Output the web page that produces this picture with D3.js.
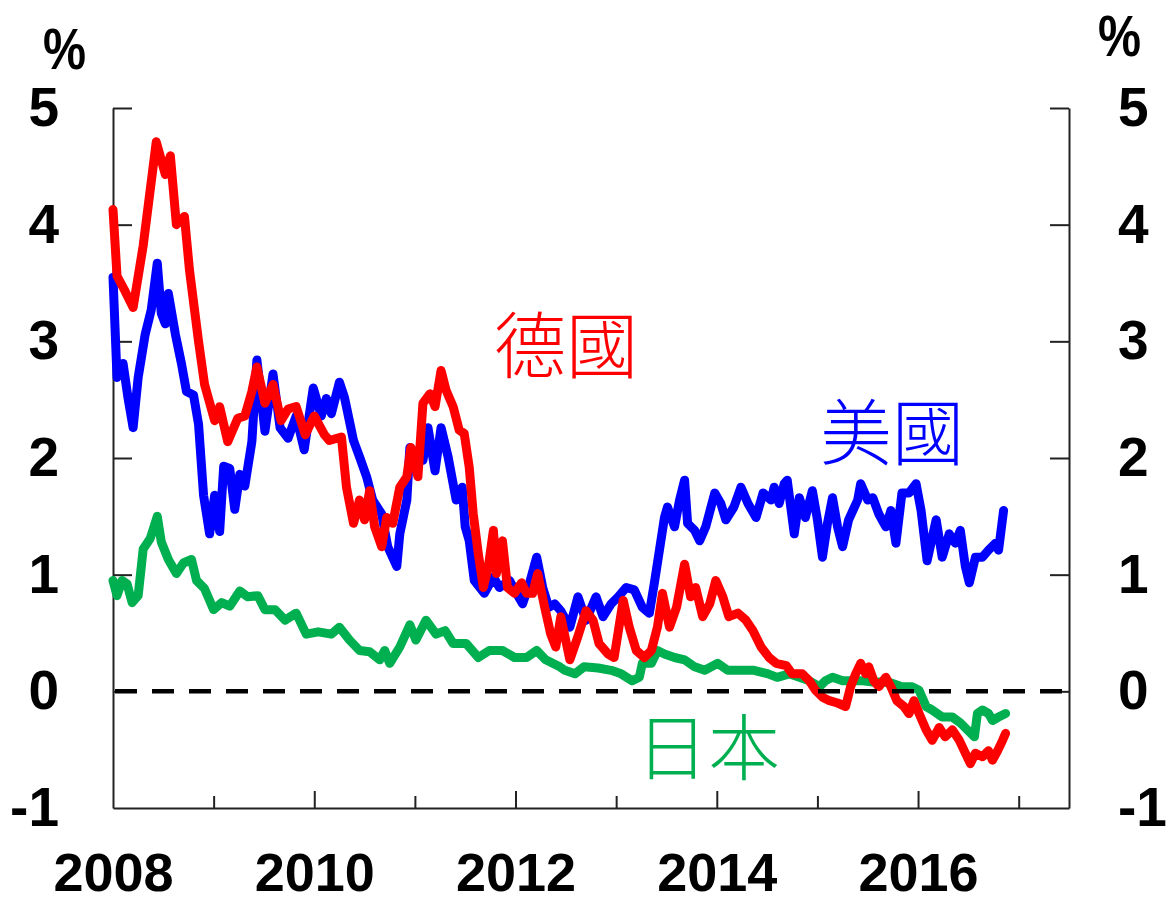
<!DOCTYPE html>
<html>
<head>
<meta charset="utf-8">
<script src="https://cdnjs.cloudflare.com/ajax/libs/d3/7.8.5/d3.min.js"></script>
<style>
  body { margin: 0; background: #fff; }
  svg { display: block; }
</style>
</head>
<body>
<script>
// 10年期公債殖利率 (%), date as decimal year

var usYield = [
  [2008.00,3.55],[2008.04,2.69],[2008.10,2.81],[2008.15,2.51],[2008.20,2.26],[2008.25,2.69],[2008.32,3.06],
  [2008.38,3.27],[2008.44,3.67],[2008.48,3.24],[2008.52,3.15],[2008.55,3.41],[2008.62,3.06],[2008.68,2.81],
  [2008.73,2.57],[2008.80,2.54],[2008.85,2.29],[2008.90,1.68],[2008.96,1.35],[2009.01,1.68],[2009.06,1.37],
  [2009.10,1.93],[2009.16,1.91],[2009.21,1.56],[2009.26,1.86],[2009.31,1.76],[2009.38,2.14],[2009.43,2.84],
  [2009.51,2.23],[2009.59,2.72],[2009.66,2.26],[2009.74,2.17],[2009.82,2.36],[2009.90,2.07],[2009.99,2.60],
  [2010.07,2.36],[2010.12,2.51],[2010.17,2.38],[2010.25,2.65],[2010.30,2.52],[2010.39,2.15],[2010.45,2.01],
  [2010.52,1.84],[2010.58,1.64],[2010.67,1.52],[2010.73,1.24],[2010.82,1.07],[2010.85,1.35],[2010.92,1.64],
  [2010.95,2.09],[2011.01,2.04],[2011.08,1.98],[2011.13,2.26],[2011.20,1.89],[2011.26,2.26],[2011.33,2.01],
  [2011.41,1.64],[2011.47,1.75],[2011.50,1.41],[2011.54,1.29],[2011.59,0.95],[2011.69,0.84],[2011.78,0.98],
  [2011.84,0.89],[2011.94,0.95],[2012.01,0.84],[2012.07,0.75],[2012.14,0.93],[2012.21,1.15],[2012.27,0.89],
  [2012.33,0.72],[2012.39,0.75],[2012.45,0.69],[2012.54,0.55],[2012.62,0.81],[2012.70,0.61],[2012.80,0.81],
  [2012.87,0.64],[2012.95,0.75],[2013.02,0.81],[2013.10,0.89],[2013.18,0.87],[2013.26,0.72],[2013.33,0.67],
  [2013.38,0.93],[2013.43,1.21],[2013.48,1.49],[2013.51,1.58],[2013.58,1.41],[2013.63,1.64],[2013.68,1.81],
  [2013.71,1.44],[2013.78,1.38],[2013.83,1.29],[2013.89,1.41],[2013.98,1.70],[2014.04,1.61],[2014.09,1.47],
  [2014.17,1.58],[2014.24,1.75],[2014.31,1.61],[2014.39,1.49],[2014.46,1.70],[2014.54,1.64],[2014.57,1.75],
  [2014.62,1.61],[2014.67,1.78],[2014.70,1.81],[2014.77,1.35],[2014.82,1.66],[2014.88,1.49],[2014.95,1.72],
  [2015.00,1.47],[2015.05,1.15],[2015.10,1.44],[2015.15,1.66],[2015.20,1.41],[2015.25,1.24],[2015.31,1.47],
  [2015.40,1.64],[2015.43,1.78],[2015.50,1.64],[2015.55,1.66],[2015.61,1.52],[2015.68,1.41],[2015.73,1.55],
  [2015.78,1.27],[2015.84,1.70],[2015.91,1.70],[2015.98,1.78],[2016.03,1.55],[2016.09,1.12],[2016.18,1.47],
  [2016.24,1.15],[2016.31,1.35],[2016.37,1.27],[2016.42,1.38],[2016.47,1.07],[2016.51,0.93],[2016.57,1.15],
  [2016.64,1.15],[2016.70,1.21],[2016.77,1.27],[2016.80,1.21],[2016.85,1.55]
];

var deYield = [
  [2008.00,4.13],[2008.04,3.56],[2008.12,3.43],[2008.20,3.29],[2008.30,3.82],[2008.43,4.71],[2008.52,4.43],
  [2008.57,4.59],[2008.63,4.00],[2008.71,4.07],[2008.76,3.61],[2008.85,3.00],[2008.91,2.63],[2009.01,2.32],
  [2009.06,2.44],[2009.14,2.14],[2009.24,2.34],[2009.31,2.36],[2009.38,2.57],[2009.43,2.78],[2009.51,2.47],
  [2009.59,2.63],[2009.67,2.32],[2009.74,2.42],[2009.82,2.44],[2009.91,2.20],[2010.00,2.36],[2010.10,2.20],
  [2010.15,2.15],[2010.27,2.18],[2010.32,1.75],[2010.39,1.44],[2010.45,1.64],[2010.50,1.47],[2010.55,1.72],
  [2010.60,1.41],[2010.67,1.24],[2010.72,1.49],[2010.78,1.44],[2010.85,1.75],[2010.92,1.84],[2010.96,2.09],
  [2011.03,1.84],[2011.08,2.47],[2011.15,2.55],[2011.20,2.44],[2011.26,2.75],[2011.31,2.58],[2011.38,2.44],
  [2011.44,2.24],[2011.49,2.21],[2011.54,1.92],[2011.58,1.52],[2011.63,1.18],[2011.68,0.89],[2011.73,1.07],
  [2011.78,1.38],[2011.81,1.01],[2011.87,1.29],[2011.92,0.89],[2011.99,0.84],[2012.06,0.93],[2012.11,0.84],
  [2012.17,0.84],[2012.22,1.01],[2012.29,0.72],[2012.35,0.49],[2012.40,0.38],[2012.45,0.64],[2012.54,0.27],
  [2012.62,0.47],[2012.70,0.69],[2012.77,0.61],[2012.83,0.41],[2012.92,0.32],[2012.98,0.29],[2013.07,0.78],
  [2013.13,0.55],[2013.20,0.35],[2013.28,0.29],[2013.35,0.35],[2013.41,0.55],[2013.46,0.84],[2013.53,0.55],
  [2013.60,0.72],[2013.68,1.09],[2013.74,0.81],[2013.79,0.89],[2013.86,0.64],[2013.93,0.75],[2013.99,0.95],
  [2014.06,0.81],[2014.12,0.64],[2014.21,0.67],[2014.29,0.61],[2014.36,0.52],[2014.44,0.38],[2014.52,0.29],
  [2014.59,0.24],[2014.69,0.22],[2014.75,0.15],[2014.85,0.15],[2014.92,0.09],[2014.98,0.01],[2015.05,-0.05],
  [2015.12,-0.08],[2015.20,-0.10],[2015.28,-0.13],[2015.33,0.04],[2015.38,0.15],[2015.43,0.24],[2015.48,0.15],
  [2015.51,0.21],[2015.56,0.09],[2015.61,0.04],[2015.68,0.12],[2015.73,0.04],[2015.79,-0.08],[2015.86,-0.13],
  [2015.91,-0.19],[2015.96,-0.08],[2016.01,-0.19],[2016.08,-0.33],[2016.14,-0.42],[2016.21,-0.31],[2016.27,-0.39],
  [2016.34,-0.33],[2016.41,-0.42],[2016.47,-0.53],[2016.52,-0.62],[2016.57,-0.53],[2016.64,-0.56],[2016.70,-0.51],
  [2016.74,-0.59],[2016.79,-0.51],[2016.84,-0.42],[2016.87,-0.36]
];

var jpYield = [
  [2008.00,0.95],[2008.04,0.82],[2008.09,0.95],[2008.14,0.92],[2008.19,0.76],[2008.25,0.82],[2008.30,1.22],
  [2008.37,1.31],[2008.44,1.50],[2008.48,1.28],[2008.55,1.13],[2008.63,1.01],[2008.70,1.10],[2008.78,1.13],
  [2008.83,0.95],[2008.91,0.88],[2009.00,0.70],[2009.08,0.76],[2009.16,0.73],[2009.26,0.86],[2009.34,0.81],
  [2009.44,0.82],[2009.51,0.70],[2009.61,0.70],[2009.71,0.61],[2009.82,0.67],[2009.92,0.49],[2010.04,0.51],
  [2010.17,0.49],[2010.25,0.55],[2010.35,0.44],[2010.45,0.35],[2010.55,0.34],[2010.65,0.27],[2010.70,0.35],
  [2010.75,0.24],[2010.85,0.38],[2010.95,0.57],[2011.01,0.44],[2011.11,0.61],[2011.21,0.49],[2011.30,0.52],
  [2011.38,0.41],[2011.51,0.41],[2011.63,0.29],[2011.74,0.35],[2011.87,0.35],[2011.99,0.29],[2012.11,0.29],
  [2012.21,0.35],[2012.30,0.27],[2012.44,0.21],[2012.49,0.18],[2012.59,0.15],[2012.68,0.21],[2012.82,0.20],
  [2012.95,0.18],[2013.05,0.15],[2013.16,0.09],[2013.23,0.12],[2013.26,0.24],[2013.35,0.24],[2013.41,0.35],
  [2013.48,0.32],[2013.58,0.29],[2013.68,0.27],[2013.78,0.21],[2013.88,0.18],[2014.01,0.24],[2014.11,0.18],
  [2014.24,0.18],[2014.37,0.18],[2014.51,0.15],[2014.60,0.12],[2014.72,0.15],[2014.82,0.12],[2014.92,0.09],
  [2015.02,0.04],[2015.08,0.09],[2015.15,0.12],[2015.25,0.09],[2015.35,0.09],[2015.45,0.09],[2015.55,0.08],
  [2015.65,0.08],[2015.74,0.07],[2015.84,0.04],[2015.94,0.04],[2016.01,0.01],[2016.08,-0.13],[2016.14,-0.16],
  [2016.24,-0.22],[2016.34,-0.22],[2016.42,-0.27],[2016.49,-0.33],[2016.56,-0.39],[2016.59,-0.19],[2016.64,-0.16],
  [2016.70,-0.19],[2016.74,-0.25],[2016.80,-0.22],[2016.87,-0.19]
];

var yTicks = [-1, 0, 1, 2, 3, 4, 5];
var xTicks = [2008, 2009, 2010, 2011, 2012, 2013, 2014, 2015, 2016, 2017];

var width = 1169,
    height = 902;

var numFont = "'Liberation Sans', Arial, sans-serif";
var cjkFont = "'Noto Sans CJK TC', 'Noto Sans CJK SC', sans-serif";

var svg = d3.select("body").append("svg")
    .attr("width", width)
    .attr("height", height);

var x = d3.scaleLinear()
    .domain([2008, 2017.5])
    .range([113, 1069]);

var y = d3.scaleLinear()
    .domain([-1, 5])
    .range([808, 108]);

// plain "-1", not the unicode minus d3 puts in
var plain = function(d) { return String(d); };

// axes, ticks point inward
var yLeft = svg.append("g")
    .attr("transform", "translate(" + x(2008) + ",0)")
    .call(d3.axisLeft(y).tickValues(yTicks).tickFormat(plain)
        .tickSizeInner(-19).tickSizeOuter(0).tickPadding(54));

var yRight = svg.append("g")
    .attr("transform", "translate(" + x(2017.5) + ",0)")
    .call(d3.axisRight(y).tickValues(yTicks).tickFormat(plain)
        .tickSizeInner(-19).tickSizeOuter(0).tickPadding(49));

var xBottom = svg.append("g")
    .attr("transform", "translate(0," + y(-1) + ")")
    .call(d3.axisBottom(x).tickValues(xTicks).tickSizeOuter(0).tickPadding(39)
        .tickFormat(function(d) { return d % 2 === 0 ? String(d) : ""; }));

xBottom.selectAll(".tick line")
    .attr("y2", function(d) { return d === 2008 ? 0 : (d % 2 === 0 ? -17 : -12); });

[yLeft, yRight, xBottom].forEach(function(g) {
    g.selectAll(".domain, .tick line")
        .attr("stroke", "#222")
        .attr("stroke-width", 2);
    g.selectAll("text")
        .attr("font-family", numFont)
        .attr("font-weight", "bold")
        .attr("font-size", 55)
        .attr("fill", "#000");
});
xBottom.selectAll("text").attr("font-size", 54);
yLeft.selectAll(".tick").filter(function(d) { return d === -1; }).select("line").remove();
yRight.selectAll(".tick").filter(function(d) { return d === -1; }).select("line").remove();

// unit labels
svg.append("text")
    .attr("x", 43).attr("y", 69)
    .attr("font-family", numFont)
    .attr("font-weight", "bold")
    .attr("font-size", 58)
    .attr("textLength", 43)
    .attr("lengthAdjust", "spacingAndGlyphs")
    .text("%");

svg.append("text")
    .attr("x", 1098).attr("y", 56)
    .attr("font-family", numFont)
    .attr("font-weight", "bold")
    .attr("font-size", 58)
    .attr("textLength", 43)
    .attr("lengthAdjust", "spacingAndGlyphs")
    .text("%");

// series
var line = d3.line()
    .x(function(d) { return x(d[0]); })
    .y(function(d) { return y(d[1]); });

var series = [
    { data: usYield, color: "#0000ff" },
    { data: jpYield, color: "#00b050" },
    { data: deYield, color: "#ff0000" }
];

svg.selectAll(".series")
    .data(series)
    .enter().append("path")
    .attr("class", "series")
    .attr("d", function(s) { return line(s.data); })
    .attr("fill", "none")
    .attr("stroke", function(s) { return s.color; })
    .attr("stroke-width", 9)
    .attr("stroke-linejoin", "round")
    .attr("stroke-linecap", "round");

// zero line
svg.append("line")
    .attr("x1", x(2008) + 2).attr("x2", x(2017.5))
    .attr("y1", y(0)).attr("y2", y(0))
    .attr("stroke", "#000")
    .attr("stroke-width", 4.5)
    .attr("stroke-dasharray", "22,15");

// series names
var names = [
    { text: "德國", cx: 566, cy: 340, color: "#ff0000" },
    { text: "美國", cx: 892, cy: 427, color: "#0000ff" },
    { text: "日本", cx: 708, cy: 742, color: "#00b050" }
];

svg.selectAll(".name")
    .data(names)
    .enter().append("text")
    .attr("class", "name")
    .attr("x", function(d) { return d.cx; })
    .attr("y", function(d) { return d.cy; })
    .attr("text-anchor", "middle")
    .attr("dominant-baseline", "central")
    .attr("font-family", cjkFont)
    .attr("font-weight", 300)
    .attr("font-size", 72)
    .attr("fill", function(d) { return d.color; })
    .text(function(d) { return d.text; });
</script>
</body>
</html>
